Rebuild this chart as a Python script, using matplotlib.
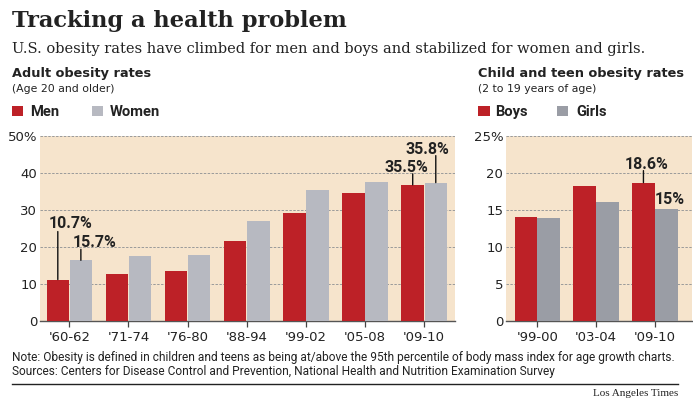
import matplotlib
matplotlib.use("Agg")
import matplotlib.pyplot as plt
from matplotlib.patches import Rectangle
import numpy as np

W, H = 693, 399

# adult obesity rates (bar heights as drawn)
adult_periods = ["'60-62", "'71-74", "'76-80", "'88-94", "'99-02", "'05-08", "'09-10"]
men = [11.2, 12.8, 13.4, 21.5, 29.2, 34.6, 36.8]
women = [16.4, 17.5, 17.8, 27.1, 35.5, 37.6, 37.4]

# child and teen obesity rates
child_periods = ["'99-00", "'03-04", "'09-10"]
boys = [14.0, 18.2, 18.7]
girls = [13.9, 16.1, 15.2]

RED = '#bd2127'
GRAY_ADULT = '#b7b9c1'
GRAY_CHILD = '#9a9da5'
BEIGE = '#f6e4cc'
TXT = '#222222'

fig = plt.figure(figsize=(W / 100, H / 100), dpi=100)
fig.patch.set_facecolor('white')


def ftext(x, y, s, **kw):
    # place text using pixel coords measured from the top-left corner
    fig.text(x / W, 1 - y / H, s, va='baseline', color=kw.pop('color', TXT), **kw)


def fbox(x0, y0, x1, y1, color):
    fig.patches.append(Rectangle((x0 / W, 1 - y1 / H), (x1 - x0) / W, (y1 - y0) / H,
                                 transform=fig.transFigure, color=color, lw=0))


def make_axes(x0, x1):
    ax = fig.add_axes([x0 / W, (H - 321) / H, (x1 - x0) / W, 185 / H])
    ax.set_facecolor(BEIGE)
    for s in ['left', 'right', 'top']:
        ax.spines[s].set_visible(False)
    ax.spines['bottom'].set_color('#555555')
    ax.spines['bottom'].set_linewidth(1.0)
    ax.tick_params(axis='y', length=0, pad=2, labelsize=9.5, labelcolor=TXT)
    ax.tick_params(axis='x', length=4.5, width=0.9, color='#444444', pad=2.5,
                   labelsize=9.5, labelcolor=TXT)
    return ax


def draw_bars(ax, cats, a, b, gray, top, step):
    x = np.arange(len(cats))
    w = 0.38
    ax.bar(x - 0.195, a, width=w, color=RED, zorder=3)
    ax.bar(x + 0.195, b, width=w, color=gray, zorder=3)
    ax.set_ylim(0, top)
    ticks = np.arange(0, top + 1, step)
    ax.set_yticks(ticks)
    ax.set_yticklabels([f'{t}%' if t == top else f'{t}' for t in ticks])
    ax.set_xticks(x)
    ax.set_xticklabels(cats)
    for t in ticks[1:]:
        ax.axhline(t, color='#9a9a9a', lw=0.7, ls=(0, (2.5, 1.5)), zorder=1)
    return x


def label(ax, xc, v, s, dx, dy, line=0):
    if line:
        ax.annotate('', xy=(xc, v), xytext=(0, line), textcoords='offset pixels',
                    arrowprops=dict(arrowstyle='-', lw=1.0, color='#111111',
                                    shrinkA=0, shrinkB=0), zorder=4)
    ax.annotate(s, xy=(xc, v), xytext=(dx, dy), textcoords='offset pixels',
                ha='left', va='baseline', fontsize=11.5, fontweight='bold',
                family='Roboto', color=TXT, zorder=5)


# left chart
ax1 = make_axes(40, 455)
x1 = draw_bars(ax1, adult_periods, men, women, GRAY_ADULT, 50, 10)
ax1.set_xlim(-0.496, 6.52)
label(ax1, x1[0] - 0.195, men[0], '10.7%', -9, 52, 48)
label(ax1, x1[0] + 0.195, women[0], '15.7%', -8, 13, 11)
label(ax1, x1[6] - 0.195, men[6], '35.5%', -28, 13, 11)
label(ax1, x1[6] + 0.195, women[6], '35.8%', -30, 29, 27)

# right chart
ax2 = make_axes(506, 692)
x2 = draw_bars(ax2, child_periods, boys, girls, GRAY_CHILD, 25, 5)
ax2.set_xlim(-0.53, 2.63)
label(ax2, x2[2] - 0.195, boys[2], '18.6%', -19, 14, 12)
label(ax2, x2[2] + 0.195, girls[2], '15%', -12, 5)

# titles and headers
ftext(12, 27, 'Tracking a health problem', fontsize=16.2, fontweight='bold',
      family='DejaVu Serif')
ftext(12, 53, 'U.S. obesity rates have climbed for men and boys and stabilized for women and girls.',
      fontsize=10.5, family='DejaVu Serif')

ftext(12, 77, 'Adult obesity rates', fontsize=9.3, fontweight='bold', family='DejaVu Sans')
ftext(12, 92, '(Age 20 and older)', fontsize=7.8, family='DejaVu Sans')
ftext(478, 77, 'Child and teen obesity rates', fontsize=9.3, fontweight='bold', family='DejaVu Sans')
ftext(478, 92, '(2 to 19 years of age)', fontsize=7.8, family='DejaVu Sans')

# legends
fbox(12, 106.5, 23, 116, RED)
ftext(30, 116, 'Men', fontsize=10.6, fontweight='bold', family='Roboto')
fbox(92, 106.5, 103, 116, GRAY_ADULT)
ftext(110, 116, 'Women', fontsize=10.6, fontweight='bold', family='Roboto')
fbox(478, 106.5, 490, 116, RED)
ftext(495, 116, 'Boys', fontsize=10.6, fontweight='bold', family='Roboto')
fbox(557, 106.5, 568, 116, GRAY_CHILD)
ftext(576, 116, 'Girls', fontsize=10.6, fontweight='bold', family='Roboto')

# footer
ftext(12, 360.5, 'Note: Obesity is defined in children and teens as being at/above the 95th '
      'percentile of body mass index for age growth charts.', fontsize=8.6, family='Roboto')
ftext(12, 375.5, 'Sources: Centers for Disease Control and Prevention, National Health and '
      'Nutrition Examination Survey', fontsize=8.6, family='Roboto')
fig.add_artist(plt.Line2D([12 / W, 678 / W], [1 - 383.5 / H, 1 - 383.5 / H],
                          color='#222222', lw=1.0, transform=fig.transFigure))
ftext(678, 396, 'Los Angeles Times', fontsize=8, family='Liberation Serif', ha='right')

fig.savefig('out.png', dpi=100, facecolor='white')
